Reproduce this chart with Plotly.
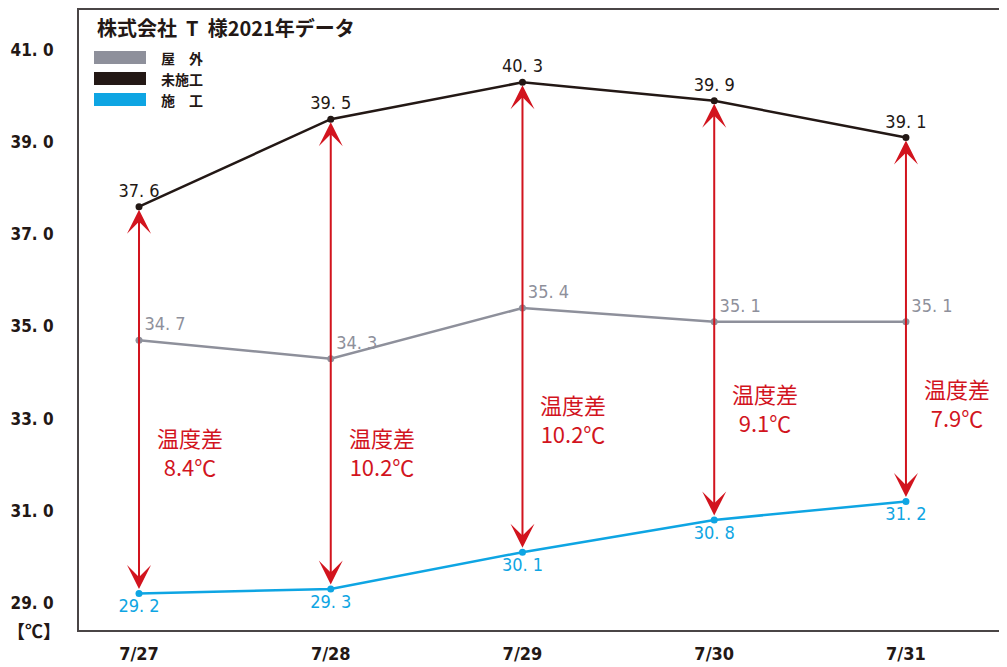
import plotly.graph_objects as go

dates = ["7/27", "7/28", "7/29", "7/30", "7/31"]
outdoor = [34.7, 34.3, 35.4, 35.1, 35.1]
untreated = [37.6, 39.5, 40.3, 39.9, 39.1]
treated = [29.2, 29.3, 30.1, 30.8, 31.2]
ytick_vals = [29, 31, 33, 35, 37, 39, 41]
title_text = "株式会社 T 様2021年データ"
legend_names = ["屋　外", "未施工", "施　工"]
diff_label_y = [32.28, 32.28, 33.0, 33.23, 33.34]

C_OUT = "#8e909b"
C_UN = "#231815"
C_TR = "#0ea5e3"
C_RED = "#d2141e"
NUM_FONT = "Liberation Sans Narrow, DejaVu Sans Condensed, Noto Sans CJK JP, sans-serif"
JP_FONT = "Noto Sans CJK JP, sans-serif"

# page body has an 8px default margin; plot area target: x 79..1007, y 10..630 (window px)
OFF = 8
PL, PT, PW, PH = 79, 10, 928, 620

def fmt(v):
    s = f"{v:.1f}"
    return s.replace(".", ".\u00a0")

def px(xp):
    return (xp - PL) / PW

def py(yp):
    return (PT + PH - yp) / PH

xs = list(range(len(dates)))
fig = go.Figure()

fig.add_trace(go.Scatter(x=xs, y=outdoor, mode="lines+markers+text", name=legend_names[0],
    line=dict(color=C_OUT, width=2.5), marker=dict(color=C_OUT, size=7),
    text=[fmt(v) for v in outdoor], textposition="top right",
    textfont=dict(family=NUM_FONT, size=18, color=C_OUT), showlegend=False, cliponaxis=False))
fig.add_trace(go.Scatter(x=xs, y=untreated, mode="lines+markers+text", name=legend_names[1],
    line=dict(color=C_UN, width=2.5), marker=dict(color=C_UN, size=7),
    text=[fmt(v) for v in untreated], textposition="top center",
    textfont=dict(family=NUM_FONT, size=18, color=C_UN), showlegend=False, cliponaxis=False))
fig.add_trace(go.Scatter(x=xs, y=treated, mode="lines+markers+text", name=legend_names[2],
    line=dict(color=C_TR, width=2.5), marker=dict(color=C_TR, size=7),
    text=[fmt(v) for v in treated], textposition="bottom center",
    textfont=dict(family=NUM_FONT, size=18, color=C_TR), showlegend=False, cliponaxis=False))

annotations = []
for i in xs:
    annotations.append(dict(x=i, y=untreated[i], ax=i, ay=treated[i], xref="x", yref="y",
        axref="x", ayref="y", text="", showarrow=True, arrowhead=3, startarrowhead=3,
        arrowside="end+start", arrowsize=2, arrowwidth=2, arrowcolor=C_RED,
        standoff=3, startstandoff=3))
    diff = round(untreated[i] - treated[i], 1)
    annotations.append(dict(x=i + 0.265, y=diff_label_y[i], xref="x", yref="y",
        text=f"温度差<br>{diff:.1f}℃", showarrow=False,
        font=dict(family=JP_FONT, size=22, color=C_RED), align="center"))

annotations.append(dict(x=px(95), y=py(27), xref="paper", yref="paper",
    text="<b>" + title_text.replace(" ", "\u00a0\u00a0") + "</b>", showarrow=False,
    xanchor="left", yanchor="middle",
    font=dict(family=JP_FONT, size=20, color=C_UN)))

sw_cols = [C_OUT, C_UN, C_TR]
sw_y = [(51, 64), (72, 85), (93, 106)]
shapes = []
for name, col, (y0, y1) in zip(legend_names, sw_cols, sw_y):
    shapes.append(dict(type="rect", xref="paper", yref="paper",
        x0=px(94), x1=px(146), y0=py(y1), y1=py(y0), fillcolor=col, line=dict(width=0)))
    annotations.append(dict(x=px(159), y=py((y0 + y1) / 2),
        xref="paper", yref="paper", text=f"<b>{name}</b>", showarrow=False,
        xanchor="left", yanchor="middle", font=dict(family=JP_FONT, size=14, color=C_UN)))

shapes.append(dict(type="rect", xref="paper", yref="paper",
    x0=px(218), x1=px(858), y0=py(4), y1=py(-2),
    fillcolor="#fbe3ec", line=dict(width=0), layer="below"))

annotations.append(dict(x=px(34), y=py(630), xref="paper", yref="paper", text="<b>【℃】</b>",
    showarrow=False, xanchor="center", yanchor="middle",
    font=dict(family=JP_FONT, size=18, color=C_UN)))

W, H = 1007, 667
fig.update_layout(
    width=W, height=H,
    margin=dict(l=PL - OFF, r=W - (PL - OFF) - PW, t=PT - OFF, b=H - (PT - OFF) - PH,
                autoexpand=False),
    paper_bgcolor="white", plot_bgcolor="white",
    xaxis=dict(range=[-0.313, 4.527], tickvals=xs, ticktext=[f"<b>{d}</b>" for d in dates],
        showgrid=False, zeroline=False, showline=True, mirror=True, linecolor="#4a4546",
        linewidth=2, ticks="", tickfont=dict(family=NUM_FONT, size=18, color=C_UN),
        ticklabelstandoff=6, automargin=False),
    yaxis=dict(range=[28.41, 41.87], tickvals=ytick_vals,
        ticktext=[f"<b>{fmt(v)}</b>" for v in ytick_vals],
        showgrid=False, zeroline=False, showline=True, linecolor="#4a4546", linewidth=2,
        ticks="", tickfont=dict(family=NUM_FONT, size=17, color=C_UN), ticklabelstandoff=20,
        automargin=False),
    annotations=annotations, shapes=shapes, showlegend=False,
)

fig.write_html("out.html")
